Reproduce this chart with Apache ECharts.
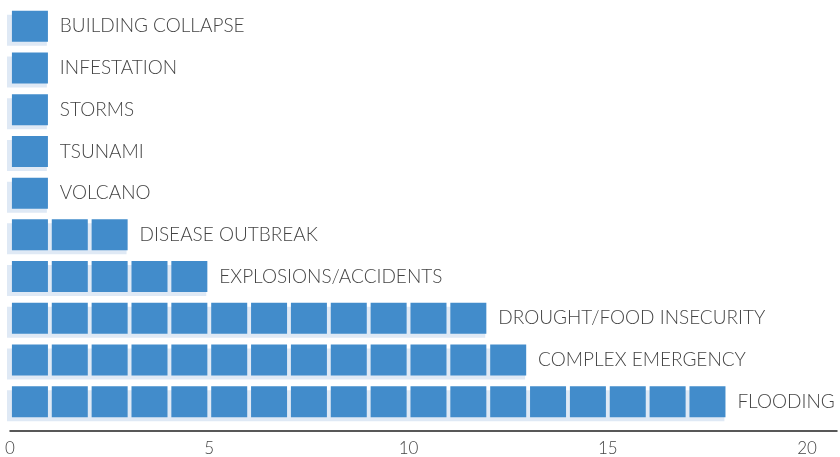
<!DOCTYPE html>
<html>
<head>
<meta charset="utf-8">
<script src="https://cdn.jsdelivr.net/npm/echarts@6/dist/echarts.min.js"></script>
<style>
html,body{margin:0;padding:0;background:#fff;}
#c{width:840px;height:457px;}
</style>
</head>
<body>
<div id="c"></div>
<script>
// bottom -> top
const categories = ['FLOODING','COMPLEX EMERGENCY','DROUGHT/FOOD INSECURITY','EXPLOSIONS/ACCIDENTS','DISEASE OUTBREAK','VOLCANO','TSUNAMI','STORMS','INFESTATION','BUILDING COLLAPSE'];
const counts = [18, 13, 12, 5, 3, 1, 1, 1, 1, 1];
const tickValues = [0, 5, 10, 15, 20];

const chart = echarts.init(document.getElementById('c'), null, {renderer: 'canvas'});
const FONT = 'Lato, "Open Sans", sans-serif';
chart.setOption({
  animation: false,
  grid: {left: 10, right: 0, top: 5.5, bottom: 32.5, containLabel: false},
  xAxis: {
    type: 'value', min: 0, max: 20.75, interval: 5,
    offset: 8.5,
    splitLine: {show: false},
    axisTick: {show: false},
    axisLine: {show: true, lineStyle: {color: '#222', width: 1.5}},
    axisLabel: {
      color: '#444', fontSize: 17, fontFamily: FONT, fontWeight: 300, margin: 9,
      formatter: v => tickValues.includes(v) ? String(v) : ''
    }
  },
  yAxis: {
    type: 'category', data: categories,
    axisLine: {show: false}, axisTick: {show: false}, axisLabel: {show: false}
  },
  series: [
    {
      type: 'pictorialBar', silent: true, z: 1,
      symbol: 'rect', symbolSize: ['100%', 31], symbolOffset: [-3, 4],
      symbolPosition: 'start',
      itemStyle: {color: '#dfe9f5'},
      data: counts
    },
    {
      type: 'pictorialBar', silent: true, z: 2,
      symbol: 'rect', symbolRepeat: true, symbolSize: [36, 31], symbolMargin: '2!',
      symbolBoundingData: tickValues[tickValues.length - 1],
      symbolPosition: 'start',
      itemStyle: {color: '#428ccb'},
      data: counts
    },
    {
      type: 'bar', silent: true, barWidth: 31, z: 3,
      itemStyle: {color: 'transparent'},
      label: {
        show: true, position: 'right', distance: 10,
        formatter: '{b}', color: '#444', fontSize: 19, fontWeight: 300, fontFamily: FONT
      },
      data: counts
    }
  ]
});
</script>
</body>
</html>
